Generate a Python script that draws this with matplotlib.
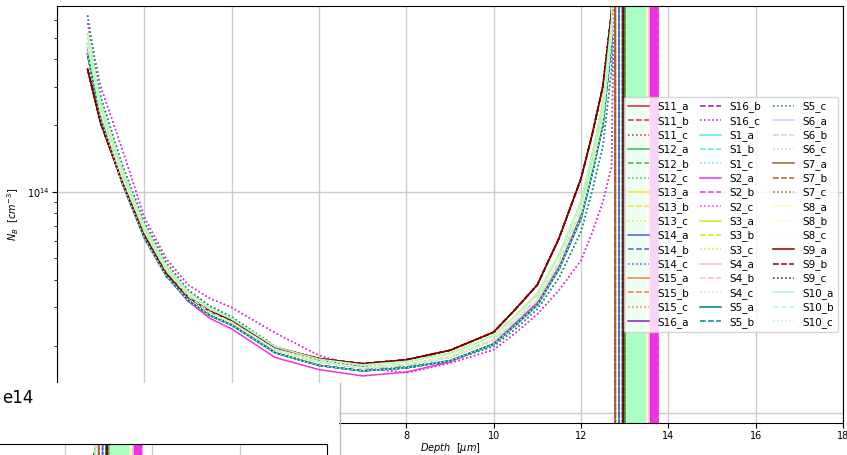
import numpy as np
import matplotlib
matplotlib.use('Agg')
from matplotlib import pyplot as plt
from matplotlib.lines import Line2D

# depth grid of the profiles [um]
depth_um = [0.7, 1.0, 1.5, 2.0, 2.5, 3.0, 3.5, 4.0, 5.0, 6.0, 7.0,
            8.0, 9.0, 10.0, 10.5, 11.0, 11.5, 12.0, 12.25, 12.5, 12.7]

# N_B profiles, in units of 1e13 cm^-3
nb_main = [47, 23.0, 11.6, 6.6, 4.40, 3.38, 2.86, 2.58, 1.93, 1.70, 1.60,
           1.65, 1.79, 2.14, 2.62, 3.25, 4.8, 8.2, 13.0, 22, 52]
nb_upper = [52, 25.0, 12.4, 7.0, 4.60, 3.52, 2.97, 2.66, 1.99, 1.75, 1.65,
            1.71, 1.86, 2.24, 2.75, 3.45, 5.2, 9.0, 14.5, 25, 60]
nb_lower = [42, 21.5, 10.9, 6.2, 4.18, 3.24, 2.76, 2.50, 1.87, 1.64, 1.55,
            1.60, 1.72, 2.05, 2.50, 3.08, 4.5, 7.6, 12.0, 20, 48]
nb_rise = [36, 20.5, 11.0, 6.4, 4.30, 3.35, 2.88, 2.62, 1.98, 1.76, 1.67,
           1.74, 1.92, 2.32, 2.95, 3.80, 6.2, 11.5, 18.0, 30, 65]
nb_slow = [58, 30, 15.5, 7.7, 5.0, 3.8, 3.3, 3.0, 2.3, 1.82, 1.60,
           1.52, 1.68, 1.93, 2.30, 2.80, 3.6, 4.9, 6.5, 9.0, 13]
nb_slow2 = [63, 27, 13.2, 7.3, 4.8, 3.6, 3.05, 2.72, 2.0, 1.74, 1.62,
            1.62, 1.72, 2.00, 2.40, 2.95, 4.1, 6.6, 10.0, 16, 36]
nb_lowmid = [45, 22.0, 11.2, 6.3, 4.20, 3.20, 2.68, 2.40, 1.78, 1.57, 1.47,
             1.53, 1.70, 2.06, 2.55, 3.15, 4.6, 7.9, 12.5, 21, 50]

samples = ['S11', 'S12', 'S13', 'S14', 'S15', 'S16', 'S1', 'S2',
           'S3', 'S4', 'S5', 'S6', 'S7', 'S8', 'S9', 'S10']
colors = ['#e6194b', '#3cb44b', '#ffe119', '#4363d8', '#f58231', '#911eb4',
          '#46f0f0', '#f032e6', '#bcf60c', '#fabebe', '#008080', '#e6beff',
          '#9a6324', '#fffac8', '#800000', '#aaffc3']
letters = ['a', 'b', 'c']
styles = ['-', '--', ':']

# which profile each curve follows (legend order)
profile_of = ['main', 'rise', 'rise',
              'lower', 'main', 'slow2',
              'upper', 'main', 'upper',
              'lower', 'lower', 'main',
              'main', 'upper', 'upper',
              'lower', 'main', 'slow',
              'lower', 'main', 'slow2',
              'lowmid', 'lower', 'slow',
              'upper', 'upper', 'main',
              'main', 'upper', 'slow2',
              'lower', 'lower', 'slow2',
              'main', 'upper', 'upper',
              'rise', 'rise', 'rise',
              'main', 'upper', 'main',
              'rise', 'rise', 'rise',
              'upper', 'main', 'lower']

# depth where each profile leaves the top, then the depths of its vertical spikes [um]
tail_um = {
    'S11': [12.76, 12.99],
    'S12': [12.77, 13.01],
    'S13': [12.78, 13.12, 13.20, 13.28, 13.36],
    'S14': [12.76, 12.87],
    'S15': [12.76, 12.79],
    'S16': [12.85, 13.60, 13.63, 13.66, 13.69, 13.72, 13.75],
    'S1': [12.78, 13.10, 13.18, 13.26, 13.34],
    'S2': [12.80, 13.61, 13.64, 13.67, 13.70, 13.73, 13.76],
    'S3': [12.79, 13.14, 13.22, 13.30, 13.38],
    'S4': [12.79, 13.44, 13.48, 13.52, 13.56],
    'S5': [12.76, 12.95],
    'S6': [12.80, 13.46, 13.50, 13.54],
    'S7': [12.74, 12.78],
    'S8': [12.79, 13.42, 13.47, 13.52],
    'S9': [12.74, 12.97],
    'S10': [12.80, 13.06, 13.08, 13.10, 13.12, 13.14, 13.16, 13.18, 13.20, 13.22,
            13.24, 13.26, 13.28, 13.30, 13.32, 13.34, 13.36, 13.38, 13.40, 13.42,
            13.44, 13.46],
}

profiles = {'main': nb_main, 'upper': nb_upper, 'lower': nb_lower, 'rise': nb_rise,
            'slow': nb_slow, 'slow2': nb_slow2, 'lowmid': nb_lowmid}
HI = 1e16
LO = 1e11

W, H = 847., 455.
fig = plt.figure(figsize=(W/100, H/100), dpi=100)
ax = fig.add_axes([57/W, 1 - 423/H, (843 - 57)/W, (423 - 6)/H])

# white patch over the lower left corner, with a second (linear) axes peeking in
cover = fig.add_axes([0, 0, 339/W, 72/H])
cover.set_xticks([]); cover.set_yticks([])
for sp in cover.spines.values(): sp.set_visible(False)
ax2 = fig.add_axes([-2/W, (H - 444)/H - 0.2, 329/W, 0.2])

k = 0
for s, col in zip(samples, colors):
    tail = tail_um[s]
    for let, ls in zip(letters, styles):
        x = list(depth_um) + [tail[0]]
        y = [v*1e13 for v in profiles[profile_of[k]]] + [HI]
        up = True
        for d in tail[1:]:
            x += [d, d]
            y += [HI, LO] if up else [LO, HI]
            up = not up
        ax.plot(x, y, ls, color=col, lw=1.1, label='%s_%s' % (s, let))
        ax2.plot(x, y, ls, color=col, lw=1.1)
        k += 1

ax.set_yscale('log')
ax.set_xlim(0, 18)
ax.set_ylim(9.0e12, 6.95e14)
ax.set_xticks(np.arange(0, 19, 2))
ax.grid(True, which='major', color='#cccccc', lw=1.0)
ax.tick_params(labelsize=7, pad=2)
ax.set_xlabel(r'$Depth\ \ [\mu m]$', fontsize=7, labelpad=0)
ax.set_ylabel(r'$N_B\ \ [cm^{-3}]$', fontsize=7)
ax.legend(ncol=3, loc='center right', fontsize=7.5, handlelength=2.0,
          labelspacing=0.33, columnspacing=1.1, borderaxespad=0.5)

ax2.set_xlim(12 - 66.5/43.75, 18)
ax2.set_ylim(0, 7e14)
ax2.set_xticks([12, 14, 16])
ax2.set_yticks([])
ax2.tick_params(length=0, labelbottom=False)
ax2.grid(True, axis='x', color='#cccccc', lw=1.0)

fig.text(2/W, 1 - 398/H, 'e14', fontsize=12, va='center', ha='left')
fig.add_artist(Line2D([339.5/W, 339.5/W], [0, 72/H], transform=fig.transFigure,
                      color='#bbbbbb', lw=1.0))

plt.savefig('out.png', dpi=100)
